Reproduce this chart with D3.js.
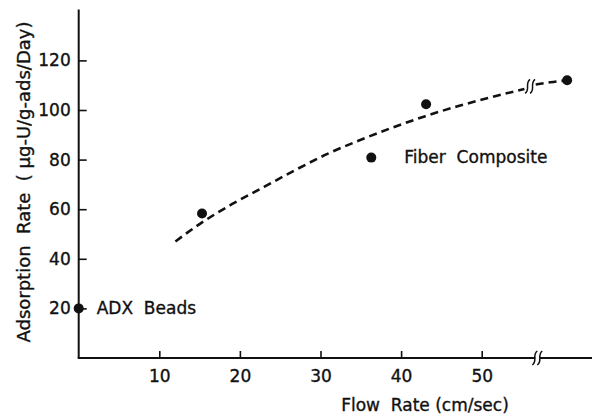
<!DOCTYPE html>
<html>
<head>
<meta charset="utf-8">
<script src="https://cdn.jsdelivr.net/npm/d3@7.9.0/dist/d3.min.js"></script>
<style>
  body { margin: 0; background: #fff; }
  svg text { font-family: "DejaVu Sans", sans-serif; fill: #111; stroke: #111; stroke-width: 0.35; white-space: pre; }
</style>
</head>
<body>
<div id="chart"></div>
<script>
// measured points (flow rate cm/sec, adsorption rate)
const pointFlow = [0, 15.3, 36.3, 43.1, 60.6];
const pointRate = [20, 58.3, 80.8, 102.3, 112];

// dashed trend curve
const curveFlow = [12, 15, 19, 23, 27, 31, 35, 39, 43, 47, 51, 55.3];
const curveRate = [47, 54, 62, 69, 76, 82.5, 88, 93, 97.5, 101.5, 105, 108.5];
const curveFlow2 = [56.7, 58.5, 60.6];
const curveRate2 = [110.3, 111.2, 112];

const xTicks = [10, 20, 30, 40, 50];
const yTicks = [20, 40, 60, 80, 100, 120];
const axisBreak = 56.9;
const curveBreak = 56;

const width = 592;
const height = 416;

const svg = d3.select('#chart')
  .append('svg')
  .attr('width', width)
  .attr('height', height);

const xScale = d3.scaleLinear().domain([0, 50]).range([78.7, 481.7]);
const yScale = d3.scaleLinear().domain([0, 120]).range([358, 60.4]);

// x axis
const xAxis = svg.append('g')
  .attr('transform', `translate(0, ${yScale(0)})`)
  .call(d3.axisBottom(xScale).tickValues(xTicks).tickSizeInner(-7).tickSizeOuter(0).tickPadding(12));
xAxis.select('.domain').remove();
xAxis.selectAll('.tick line').attr('stroke', '#111').attr('stroke-width', 1.6);
xAxis.selectAll('text').attr('font-size', 17).attr('fill', '#111');

// y axis
const yAxis = svg.append('g')
  .attr('transform', `translate(${xScale(0)}, 0)`)
  .call(d3.axisLeft(yScale).tickValues(yTicks).tickSizeInner(-8).tickSizeOuter(0).tickPadding(8));
yAxis.select('.domain').remove();
yAxis.selectAll('.tick line').attr('stroke', '#111').attr('stroke-width', 1.6);
yAxis.selectAll('text').attr('font-size', 17).attr('fill', '#111');

// axis lines
svg.append('line')
  .attr('x1', xScale(0) - 1).attr('x2', width)
  .attr('y1', yScale(0)).attr('y2', yScale(0))
  .attr('stroke', '#111').attr('stroke-width', 2);
svg.append('line')
  .attr('x1', xScale(0)).attr('x2', xScale(0))
  .attr('y1', yScale(0)).attr('y2', yScale(140.5))
  .attr('stroke', '#111').attr('stroke-width', 2);

function breakMark(cx, cy) {
  const g = svg.append('g').attr('transform', `translate(${cx}, ${cy})`);
  g.append('rect').attr('x', -2).attr('y', -4).attr('width', 4).attr('height', 8).attr('fill', '#fff');
  [-2.5, 2.5].forEach(dx => {
    g.append('path')
      .attr('d', `M${dx - 2.5},7 C${dx + 3},3 ${dx - 3},-3 ${dx + 2.5},-7`)
      .attr('fill', 'none')
      .attr('stroke', '#111')
      .attr('stroke-width', 1.5);
  });
}

// dashed curve
const line = d3.line()
  .x(d => xScale(d[0]))
  .y(d => yScale(d[1]))
  .curve(d3.curveMonotoneX);

[[curveFlow, curveRate], [curveFlow2, curveRate2]].forEach(([fx, fy]) => {
  svg.append('path')
    .datum(fx.map((f, i) => [f, fy[i]]))
    .attr('d', line)
    .attr('fill', 'none')
    .attr('stroke', '#111')
    .attr('stroke-width', 2.6)
    .attr('stroke-dasharray', '8,5');
});

breakMark(xScale(axisBreak), yScale(0));
breakMark(xScale(curveBreak), yScale(109.5));

// points
svg.append('g')
  .selectAll('circle')
  .data(pointFlow.map((f, i) => [f, pointRate[i]]))
  .join('circle')
  .attr('cx', d => xScale(d[0]))
  .attr('cy', d => yScale(d[1]))
  .attr('r', 5)
  .attr('fill', '#111');

// labels
svg.append('text')
  .attr('x', xScale(0) + 18).attr('y', yScale(20))
  .attr('dy', '0.35em')
  .attr('font-size', 17)
  .text('ADX  Beads');

svg.append('text')
  .attr('x', xScale(40.4)).attr('y', yScale(81))
  .attr('dy', '0.35em')
  .attr('font-size', 17)
  .text('Fiber  Composite');

svg.append('text')
  .attr('x', 425).attr('y', 411)
  .attr('text-anchor', 'middle')
  .attr('font-size', 17)
  .text('Flow  Rate (cm/sec)');

svg.append('text')
  .attr('transform', `translate(30, ${182}) rotate(-90)`)
  .attr('text-anchor', 'middle')
  .attr('font-size', 18)
  .text('Adsorption  Rate  ( \u00b5g-U/g-ads/Day)');
</script>
</body>
</html>
